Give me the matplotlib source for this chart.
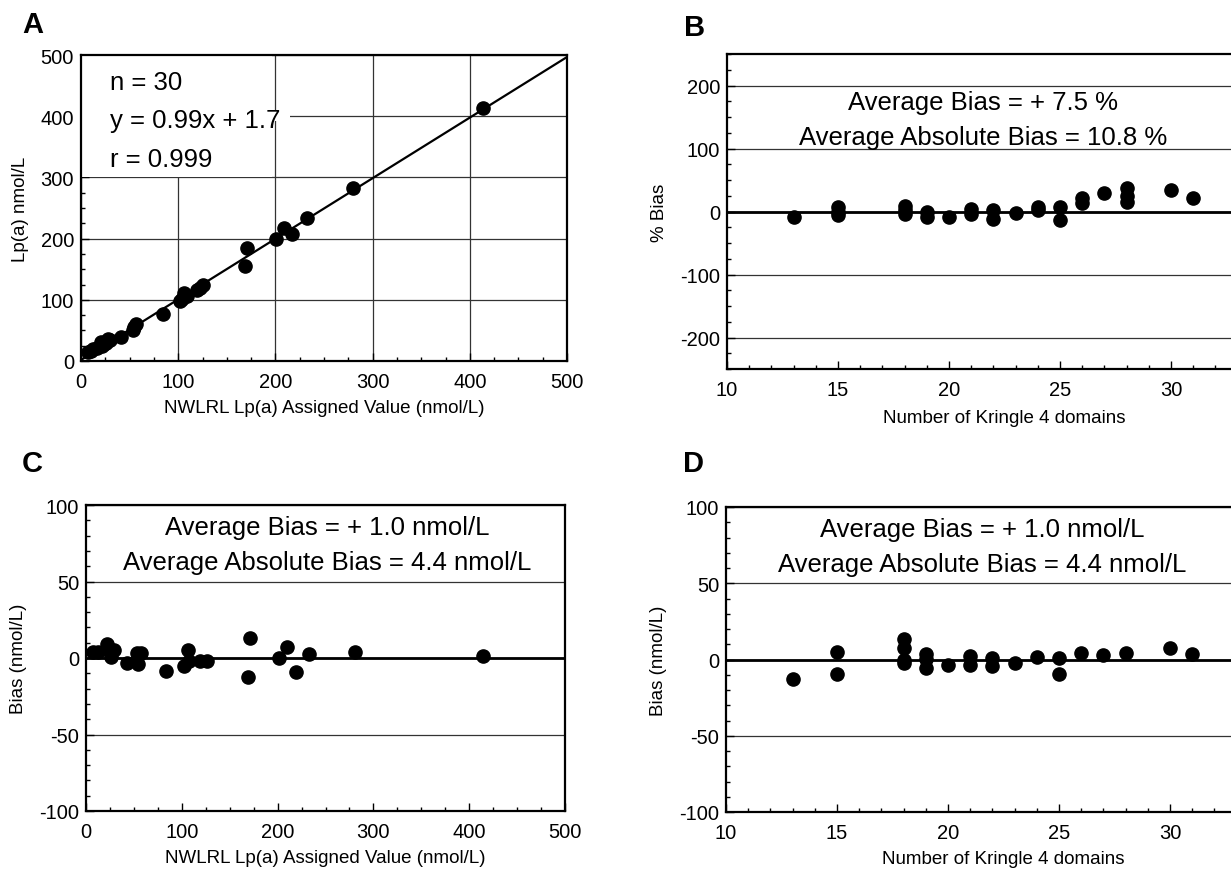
import matplotlib
matplotlib.use("Agg")
import matplotlib.pyplot as plt
from matplotlib.ticker import MultipleLocator, FixedLocator
from matplotlib.patches import Rectangle

plt.rcParams['font.family'] = ['Liberation Sans', 'DejaVu Sans']
plt.rcParams['axes.unicode_minus'] = False

# ---- Panel A data: assigned vs measured Lp(a) (nmol/L)
a_assigned = [413.5, 279.7, 232.7, 209.3, 217.2, 200.7, 171.0, 168.5, 125.6, 119.0,
              106.0, 102.0, 109.0, 84.0, 57.0, 53.0, 41.0, 28.0, 24.0, 20.6,
              12.7, 7.5, 16.0, 30.0, 55.0, 104.0, 122.0, 26.0, 10.0, 22.0]
a_measured = [413.0, 282.0, 234.0, 218.0, 207.5, 199.0, 185.0, 156.0, 125.0, 116.5,
              111.0, 98.6, 107.0, 76.0, 60.0, 51.0, 39.0, 36.0, 28.0, 31.6,
              19.6, 14.0, 22.0, 34.0, 56.0, 102.0, 120.0, 30.0, 16.0, 25.0]
reg_slope = 0.99
reg_intercept = 1.7
a_stats = ["n = 30", "y = 0.99x + 1.7", "r = 0.999"]

# ---- Panel B data: % bias vs number of kringle 4 domains
b_kringle = [13, 15, 15, 15, 18, 18, 18, 19, 19, 20, 21, 21, 22, 22, 23, 24, 24,
             25, 25, 26, 26, 27, 28, 28, 28, 30, 31]
b_pct_bias = [-8, 7, -6, 0, 9, -4, 2, -1, -9, -8, 4, -4, 3, -12, -2, 7, 2,
              7, -13, 21, 14, 30, 38, 25, 15, 34, 22]
b_text = ["Average Bias = + 7.5 %", "Average Absolute Bias = 10.8 %"]

# ---- Panel C data: bias (nmol/L) vs assigned value
c_assigned = [7.7, 13.0, 22.0, 25.0, 29.6, 25.8, 42.5, 53.0, 57.0, 54.7, 84.0, 102.7,
              106.0, 108.0, 119.0, 126.0, 171.6, 169.6, 201.0, 210.0, 218.7, 233.0,
              281.0, 414.0]
c_bias = [4.1, 4.0, 9.0, 5.0, 5.4, 0.4, -3.3, 3.0, 3.0, -4.0, -8.7, -5.0,
          5.2, -2.0, -1.7, -1.7, 13.3, -12.6, -0.2, 7.4, -8.9, 2.6, 3.7, 1.5]
c_text = ["Average Bias = + 1.0 nmol/L", "Average Absolute Bias = 4.4 nmol/L"]

# ---- Panel D data: bias (nmol/L) vs number of kringle 4 domains
d_kringle = [13, 15, 15, 18, 18, 18, 18, 19, 19, 19, 20, 21, 21, 22, 22, 23, 24,
             25, 25, 26, 27, 28, 30, 31]
d_bias = [-12.6, 4.8, -9.3, 13.7, 7.6, 0.0, -2.6, 3.7, 0.4, -5.4, -3.9, 2.2, -3.3,
          1.1, -4.3, -2.2, 1.7, 1.1, -9.3, 4.3, 2.8, 4.3, 7.6, 3.3]
d_text = c_text

kringle_ticks = [10, 15, 20, 25, 30]

W, H = 1231, 870
fig = plt.figure(figsize=(W / 100, H / 100), dpi=100)


def px_axes(left, top, width, height):
    return fig.add_axes([left / W, 1 - (top + height) / H, width / W, height / H])


LBL = 13.5
TICK = 14.5


def style(ax):
    for s in ax.spines.values():
        s.set_linewidth(1.6)
    ax.tick_params(which='both', direction='in', labelsize=TICK, width=1.0)
    ax.tick_params(which='major', length=6)
    ax.tick_params(which='minor', length=3)
    ax.tick_params(axis='x', pad=8)
    ax.tick_params(axis='y', pad=5)
    ax.set_axisbelow(True)


TXT = 18.5
MS = 9.5

# ---------- A
axA = px_axes(81, 56, 486, 306)
axA.set_xlim(0, 500)
axA.set_ylim(0, 500)
axA.xaxis.set_major_locator(MultipleLocator(100))
axA.yaxis.set_major_locator(MultipleLocator(100))
axA.xaxis.set_minor_locator(MultipleLocator(25))
axA.yaxis.set_minor_locator(MultipleLocator(25))
axA.grid(True, which='major', color='#333333', linewidth=0.9)
axA.add_patch(Rectangle((0, 300), 196, 200, facecolor='white', edgecolor='none', zorder=1))
axA.add_patch(Rectangle((196, 392), 19, 16, facecolor='white', edgecolor='none', zorder=1))
xs = [0, 500]
axA.plot(xs, [reg_slope * x + reg_intercept for x in xs], color='black', linewidth=1.6, zorder=2)
axA.plot(a_assigned, a_measured, 'o', color='black', markersize=MS, zorder=3)
for i, t in enumerate(a_stats):
    axA.text(30, 456 - i * 63, t, fontsize=TXT, va='center', ha='left', zorder=4)
axA.set_xlabel("NWLRL Lp(a) Assigned Value (nmol/L)", fontsize=LBL, labelpad=6)
axA.set_ylabel("Lp(a) nmol/L", fontsize=LBL, labelpad=8)
style(axA)

# ---------- B
axB = px_axes(727, 55, 555, 315)
axB.set_xlim(10, 35)
axB.set_ylim(-250, 250)
axB.xaxis.set_major_locator(FixedLocator(kringle_ticks))
axB.xaxis.set_minor_locator(MultipleLocator(1))
axB.yaxis.set_major_locator(MultipleLocator(100))
axB.yaxis.set_minor_locator(MultipleLocator(25))
axB.grid(True, axis='y', which='major', color='#333333', linewidth=0.9)
axB.axhline(0, color='black', linewidth=2.0, zorder=2)
axB.plot(b_kringle, b_pct_bias, 'o', color='black', markersize=MS, zorder=3)
axB.set_xlabel("Number of Kringle 4 domains", fontsize=LBL, labelpad=7)
axB.set_ylabel("% Bias", fontsize=LBL, labelpad=9)
style(axB)

# ---------- C
axC = px_axes(86, 506, 479, 306)
axC.set_xlim(0, 500)
axC.set_ylim(-100, 100)
axC.xaxis.set_major_locator(MultipleLocator(100))
axC.xaxis.set_minor_locator(MultipleLocator(25))
axC.yaxis.set_major_locator(MultipleLocator(50))
axC.yaxis.set_minor_locator(MultipleLocator(10))
axC.grid(True, axis='y', which='major', color='#333333', linewidth=0.9)
axC.axhline(0, color='black', linewidth=2.0, zorder=2)
axC.plot(c_assigned, c_bias, 'o', color='black', markersize=MS, zorder=3)
axC.set_xlabel("NWLRL Lp(a) Assigned Value (nmol/L)", fontsize=LBL, labelpad=6)
axC.set_ylabel("Bias (nmol/L)", fontsize=LBL, labelpad=9)
style(axC)

# ---------- D
axD = px_axes(726, 508, 555, 305)
axD.set_xlim(10, 35)
axD.set_ylim(-100, 100)
axD.xaxis.set_major_locator(FixedLocator(kringle_ticks))
axD.xaxis.set_minor_locator(MultipleLocator(1))
axD.yaxis.set_major_locator(MultipleLocator(50))
axD.yaxis.set_minor_locator(MultipleLocator(10))
axD.grid(True, axis='y', which='major', color='#333333', linewidth=0.9)
axD.axhline(0, color='black', linewidth=2.0, zorder=2)
axD.plot(d_kringle, d_bias, 'o', color='black', markersize=MS, zorder=3)
axD.set_xlabel("Number of Kringle 4 domains", fontsize=LBL, labelpad=6)
axD.set_ylabel("Bias (nmol/L)", fontsize=LBL, labelpad=9)
style(axD)


def ftext(x, y, s, **kw):
    fig.text(x / W, 1 - y / H, s, **kw)


# stats text blocks
for (cx, y0, lines) in [(983, 103, b_text), (327, 528, c_text), (982, 530, d_text)]:
    for i, t in enumerate(lines):
        ftext(cx, y0 + i * 35, t, fontsize=TXT, ha='center', va='center')

# panel letters
for (x, y, s) in [(22, 25, "A"), (684, 28, "B"), (22, 464, "C"), (683, 464, "D")]:
    ftext(x, y, s, fontsize=21, fontweight='bold', ha='left', va='center')

fig.savefig("out.png", dpi=100)
